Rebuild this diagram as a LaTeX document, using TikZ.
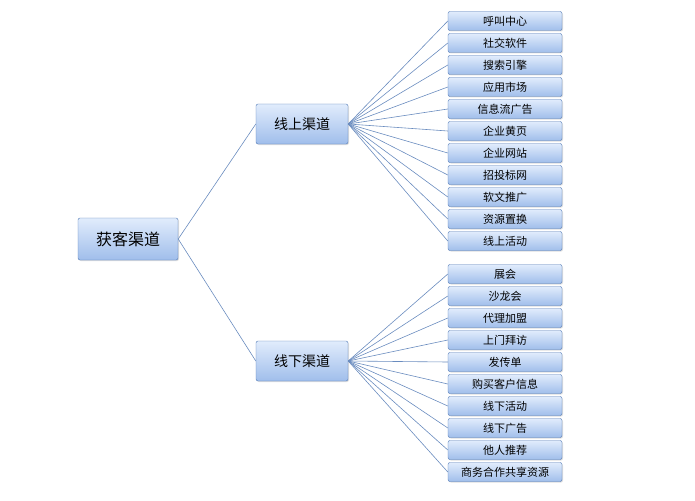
\documentclass[tikz,border=0pt]{standalone}
\usepackage{fontspec}
\setmainfont{Noto Sans CJK SC}
\usetikzlibrary{shadows}
\definecolor{boxline}{RGB}{80,120,180}
\definecolor{boxtop}{RGB}{225,236,252}
\definecolor{boxbot}{RGB}{160,190,235}
\tikzset{
  box/.style={draw=boxline, rounded corners=2pt, top color=boxtop, bottom color=boxbot,
    inner sep=0pt, drop shadow={opacity=0.25, shadow xshift=1pt, shadow yshift=-1pt}},
  rootbox/.style={box, minimum width=100pt, minimum height=42pt, font=\fontsize{16}{18}\selectfont},
  midbox/.style={box, minimum width=92pt, minimum height=40pt, font=\fontsize{14}{16}\selectfont},
  leafbox/.style={box, minimum width=114pt, minimum height=19pt, font=\fontsize{11}{13}\selectfont},
  link/.style={draw=boxline!85, line width=0.6pt}
}
\begin{document}
\begin{tikzpicture}[x=1pt,y=1pt]
  \useasboundingbox (0,0) rectangle (695,-500);
  % root and channels
  \node[rootbox] (root) at (128,-239) {获客渠道};
  \node[midbox] (online) at (302,-124) {线上渠道};
  \node[midbox] (offline) at (302,-361) {线下渠道};
  \draw[link] (root.east) -- (online.west);
  \draw[link] (root.east) -- (offline.west);
  % online leaves
  \foreach \t [count=\i] in {呼叫中心,社交软件,搜索引擎,应用市场,信息流广告,企业黄页,企业网站,招投标网,软文推广,资源置换,线上活动}{
    \node[leafbox] (on\i) at (505,{-21-22*(\i-1)}) {\t};
    \draw[link] (online.east) -- (on\i.west);
  }
  % offline leaves
  \foreach \t [count=\i] in {展会,沙龙会,代理加盟,上门拜访,发传单,购买客户信息,线下活动,线下广告,他人推荐,商务合作共享资源}{
    \node[leafbox] (off\i) at (505,{-274-22*(\i-1)}) {\t};
    \draw[link] (offline.east) -- (off\i.west);
  }
\end{tikzpicture}
\end{document}
